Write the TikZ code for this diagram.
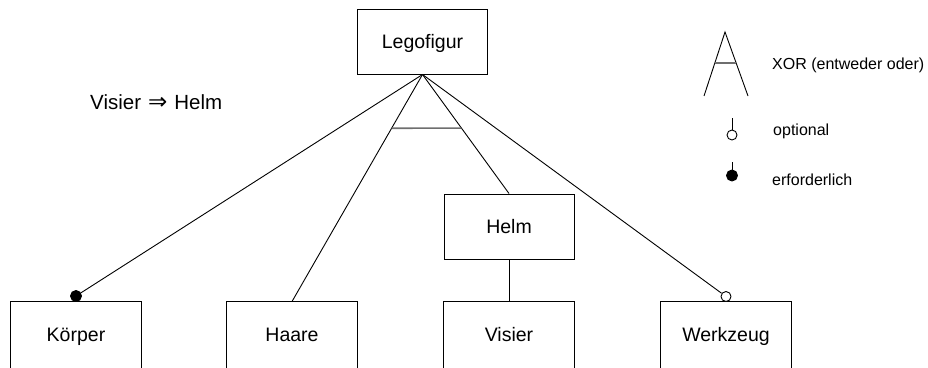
\documentclass[tikz,border=0pt]{standalone}
\usepackage{fontspec}
\setmainfont{Liberation Sans}
\newfontfamily\symfont{DejaVu Sans}
\usetikzlibrary{calc}
\begin{document}
\begin{tikzpicture}[x=1pt,y=-1pt,
  conn/.style={line width=0.9pt},
  boxline/.style={line width=1pt},
  xorbar/.style={line width=1.6pt, draw={rgb,255:red,110;green,110;blue,110}},
  box/.style={draw, line width=1pt, minimum width=130pt, minimum height=65pt, inner sep=0pt,
    text height=14pt, text depth=0pt, font=\fontsize{19.5}{23}\selectfont},
  openbox/.style={box, draw=none},
  lbl/.style={inner sep=0pt, font=\fontsize{20.5}{24}\selectfont},
  leg/.style={inner sep=0pt, anchor=base west, font=\fontsize{16}{19}\selectfont},
  odot/.style={circle, draw, fill=white, line width=0.9pt, minimum size=10pt, inner sep=0pt},
  fdot/.style={circle, draw, fill=black, line width=0.9pt, minimum size=11pt, inner sep=0pt}
]
\useasboundingbox (0,0) rectangle (928,367);

% boxes
\node[box] (lego) at (422.5,41.5) {Legofigur};
\node[box] (helm) at (509,226.5) {Helm};
\node[openbox] (koerper) at (76,334.5) {Körper};
\node[openbox] (haare) at (292,334.5) {Haare};
\node[openbox] (visier) at (509,334.5) {Visier};
\node[openbox] (werkzeug) at (726,334.5) {Werkzeug};
\foreach \b in {koerper,haare,visier,werkzeug}{
  \draw[boxline] (\b.north west) rectangle ($(\b.south east)+(0,12)$);
}

% connectors
\node[fdot] (kdot) at ([yshift=5.5pt]koerper.north) {};
\node[odot] (wdot) at ([yshift=5pt]werkzeug.north) {};
\draw[conn] (lego.south) -- (kdot);
\draw[conn] (lego.south) -- (haare.north);
\draw[conn] (lego.south) -- (helm.north);
\draw[conn] (lego.south) -- (wdot);
\draw[conn] (helm.south) -- (visier.north);
\draw[xorbar] ($(lego.south)!{54/228}!(haare.north)$) -- ($(lego.south)!{54/120}!(helm.north)$);

% constraint
\node[lbl, anchor=base west] (constraint) at (90,109) {Visier\hspace{7pt}{\symfont\fontsize{23}{25}\selectfont ⇒}\hspace{7pt}Helm};

% legend
\coordinate (xa) at (725,32);
\coordinate (xl) at (704,96);
\coordinate (xr) at (748,96);
\draw[conn] (xl) -- (xa) -- (xr);
\draw[xorbar] ($(xa)!{31/64}!(xl)$) -- ($(xa)!{31/64}!(xr)$);
\node[leg] (xortxt) at (772,69) {XOR (entweder oder)};

\coordinate (ot) at (732,118);
\node[odot] (od) at (732,135) {};
\draw[conn] (ot) -- (od.north);
\node[leg] (opttxt) at (773,135) {optional};

\coordinate (et) at (732,162);
\node[fdot] (ed) at (732,175.5) {};
\draw[conn] (et) -- (ed.north);
\node[leg] (erftxt) at (772,185) {erforderlich};
\end{tikzpicture}
\end{document}
